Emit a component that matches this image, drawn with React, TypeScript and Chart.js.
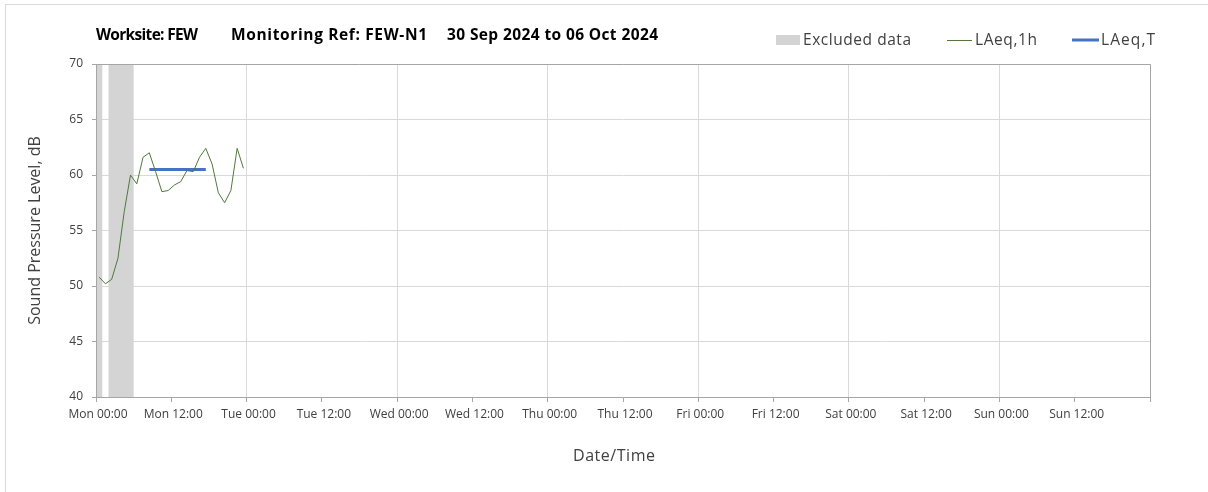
import React, { useEffect, useRef } from 'react';
import { Chart, registerables } from 'chart.js';

Chart.register(...registerables);

// ---- Data ----
const titleParts = ['Worksite: FEW', 'Monitoring Ref: FEW-N1', '30 Sep 2024 to 06 Oct 2024'];
const legendLabels = ['Excluded data', 'LAeq,1h', 'LAeq,T'];
const xAxisTitle = 'Date/Time';
const yAxisTitle = 'Sound Pressure Level, dB';

// hours from Mon 00:00
const xTickHours = [0, 12, 24, 36, 48, 60, 72, 84, 96, 108, 120, 132, 144, 156, 168];
const xTickLabels = [
  'Mon 00:00', 'Mon 12:00', 'Tue 00:00', 'Tue 12:00', 'Wed 00:00', 'Wed 12:00',
  'Thu 00:00', 'Thu 12:00', 'Fri 00:00', 'Fri 12:00', 'Sat 00:00', 'Sat 12:00',
  'Sun 00:00', 'Sun 12:00', '',
];

const laeq1hHours = [
  0.5, 1.5, 2.5, 3.5, 4.5, 5.5, 6.5, 7.5, 8.5, 9.5, 10.5, 11.5,
  12.5, 13.5, 14.5, 15.5, 16.5, 17.5, 18.5, 19.5, 20.5, 21.5, 22.5, 23.5,
];
const laeq1hValues = [
  50.8, 50.2, 50.6, 52.5, 56.7, 60.0, 59.2, 61.6, 62.0, 60.3, 58.5, 58.6,
  59.1, 59.4, 60.4, 60.3, 61.6, 62.4, 61.0, 58.4, 57.5, 58.6, 62.4, 60.6,
];

const laeqTHours = [8.5, 17.5];
const laeqTValues = [60.5, 60.5];

const excludedStart = [0, 2];
const excludedEnd = [1, 6];

const yMin = 40;
const yMax = 70;
const yStep = 5;
const xMin = 0;
const xMax = 168;

// ---- Styles ----
const FONT = '"Open Sans", "Noto Sans", sans-serif';
const TEXT = '#404040';
const GRID = '#d9d9d9';
const AXIS = '#a6a6a6';
const EXCL = '#d4d4d4';
const GREEN = '#4f7a3c';
const BLUE = '#4472c4';

// draw text starting at x, spread to a target width with letter spacing
function drawFit(ctx: any, text: string, x: number, y: number, width: number, font: string) {
  ctx.font = font;
  ctx.letterSpacing = '0px';
  const w = ctx.measureText(text).width;
  const n = Math.max(1, text.length - 1);
  const ls = (width - w) / n;
  ctx.letterSpacing = `${ls}px`;
  ctx.fillText(text, x, y);
  ctx.letterSpacing = '0px';
}

const overlayPlugin = {
  id: 'overlay',
  beforeDraw(chart: any) {
    const ctx = chart.ctx as CanvasRenderingContext2D;
    ctx.save();
    ctx.fillStyle = '#ffffff';
    ctx.fillRect(0, 0, chart.width, chart.height);
    ctx.strokeStyle = GRID;
    ctx.lineWidth = 1;
    ctx.strokeRect(5.5, 4.5, chart.width + 20, chart.height + 20);
    ctx.restore();
  },
  beforeDatasetsDraw(chart: any) {
    const ctx = chart.ctx as CanvasRenderingContext2D;
    const x = chart.scales.x;
    const area = chart.chartArea;
    ctx.save();
    ctx.fillStyle = EXCL;
    for (let i = 0; i < excludedStart.length; i++) {
      const x0 = x.getPixelForValue(excludedStart[i]);
      const x1 = x.getPixelForValue(excludedEnd[i]);
      ctx.fillRect(x0, area.top, x1 - x0, area.bottom - area.top);
    }
    ctx.strokeStyle = AXIS;
    ctx.lineWidth = 1;
    ctx.beginPath();
    ctx.moveTo(Math.round(area.left) + 0.5, area.top);
    ctx.lineTo(Math.round(area.left) + 0.5, area.bottom);
    ctx.stroke();
    ctx.restore();
  },
  afterDatasetsDraw(chart: any) {
    const ctx = chart.ctx as CanvasRenderingContext2D;
    const area = chart.chartArea;
    ctx.save();
    ctx.strokeStyle = AXIS;
    ctx.lineWidth = 1;
    ctx.beginPath();
    ctx.moveTo(area.left, Math.round(area.top) + 0.5);
    ctx.lineTo(Math.round(area.right) + 0.5, Math.round(area.top) + 0.5);
    ctx.lineTo(Math.round(area.right) + 0.5, area.bottom + 5);
    ctx.stroke();
    ctx.restore();
  },
  afterDraw(chart: any) {
    const ctx = chart.ctx as CanvasRenderingContext2D;
    ctx.save();
    ctx.textBaseline = 'middle';
    ctx.textAlign = 'left';
    // title
    ctx.fillStyle = '#000000';
    const tf = `bold 15.5px ${FONT}`;
    drawFit(ctx, titleParts[0], 96, 36, 102, tf);
    drawFit(ctx, titleParts[1], 231, 36, 196, tf);
    drawFit(ctx, titleParts[2], 447, 36, 211, tf);
    // legend
    ctx.fillStyle = EXCL;
    ctx.fillRect(776, 35, 24, 10);
    const lf = `normal 15.5px ${FONT}`;
    ctx.fillStyle = TEXT;
    drawFit(ctx, legendLabels[0], 803, 41, 108, lf);
    ctx.strokeStyle = GREEN;
    ctx.lineWidth = 1;
    ctx.beginPath();
    ctx.moveTo(947, 40.5);
    ctx.lineTo(972, 40.5);
    ctx.stroke();
    drawFit(ctx, legendLabels[1], 975, 41, 62, lf);
    ctx.strokeStyle = BLUE;
    ctx.lineWidth = 3;
    ctx.beginPath();
    ctx.moveTo(1072, 40);
    ctx.lineTo(1099, 40);
    ctx.stroke();
    drawFit(ctx, legendLabels[2], 1101, 41, 54, lf);
    // x axis title
    drawFit(ctx, xAxisTitle, 573, 456, 82, `normal 16px ${FONT}`);
    ctx.restore();
  },
};

export default function App() {
  const ref = useRef<HTMLCanvasElement>(null);

  useEffect(() => {
    const canvas = ref.current;
    if (!canvas) return;
    const chart = new Chart(canvas, {
      type: 'line',
      data: {
        datasets: [
          {
            label: legendLabels[1],
            data: laeq1hHours.map((h, i) => ({ x: h, y: laeq1hValues[i] })),
            borderColor: GREEN,
            borderWidth: 1,
            pointRadius: 0,
            tension: 0,
            borderJoinStyle: 'round',
          },
          {
            label: legendLabels[2],
            data: laeqTHours.map((h, i) => ({ x: h, y: laeqTValues[i] })),
            borderColor: BLUE,
            borderWidth: 3,
            pointRadius: 0,
            tension: 0,
          },
        ],
      },
      options: {
        responsive: false,
        animation: false,
        devicePixelRatio: 1,
        layout: { padding: { top: 64, right: 58, left: 0, bottom: 0 } },
        plugins: {
          legend: { display: false },
          title: { display: false },
          tooltip: { enabled: false },
        },
        scales: {
          x: {
            type: 'linear',
            min: xMin,
            max: xMax,
            afterBuildTicks: (axis: any) => {
              axis.ticks = xTickHours.map((v) => ({ value: v }));
            },
            afterFit: (axis: any) => {
              axis.height = 95;
              axis.paddingLeft = 0;
              axis.paddingRight = 0;
            },
            grid: {
              color: (c: any) => (c.tick && c.tick.value % 24 === 0 ? GRID : 'rgba(0,0,0,0)'),
              tickColor: AXIS,
              tickLength: 5,
              lineWidth: 1,
            },
            border: { color: AXIS, width: 1 },
            ticks: {
              autoSkip: false,
              maxRotation: 0,
              minRotation: 0,
              padding: 5,
              labelOffset: 2,
              color: TEXT,
              font: { family: FONT, size: 12 },
              callback: (_v: any, i: number) => xTickLabels[i],
            },
          },
          y: {
            type: 'linear',
            min: yMin,
            max: yMax,
            afterFit: (axis: any) => {
              axis.width = 96;
              axis.paddingTop = 0;
              axis.paddingBottom = 0;
            },
            grid: {
              color: GRID,
              tickColor: AXIS,
              tickLength: 4,
              lineWidth: 1,
            },
            border: { color: AXIS, width: 1 },
            ticks: {
              stepSize: yStep,
              padding: 9,
              color: TEXT,
              font: { family: FONT, size: 12 },
            },
            title: {
              display: true,
              text: yAxisTitle,
              color: TEXT,
              font: { family: FONT, size: 16 },
              padding: { top: 26, bottom: 0 },
            },
          },
        },
      },
      plugins: [overlayPlugin],
    } as any);
    return () => chart.destroy();
  }, []);

  return (
    <div style={{ position: 'absolute', left: 0, top: 0, width: 1208, height: 492, background: '#fff' }}>
      <canvas ref={ref} width={1208} height={492} style={{ display: 'block', width: 1208, height: 492 }} />
    </div>
  );
}
